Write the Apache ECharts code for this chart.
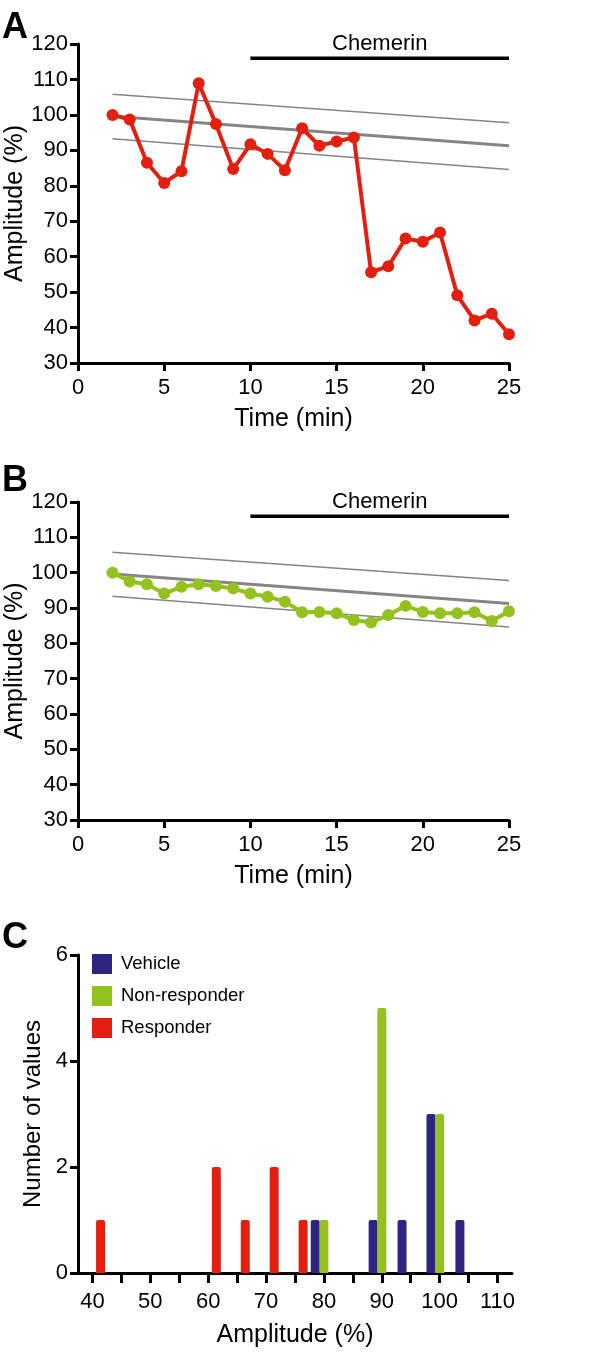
<!DOCTYPE html>
<html>
<head>
<meta charset="utf-8">
<script src="https://cdn.jsdelivr.net/npm/echarts@6/dist/echarts.min.js"></script>
<style>
html,body{margin:0;padding:0;background:#fff;}
#chart{width:600px;height:1353px;}
</style>
</head>
<body>
<div id="chart"></div>
<script>
// ---- data ----
const time = [2,3,4,5,6,7,8,9,10,11,12,13,14,15,16,17,18,19,20,21,22,23,24,25];
const responder = [100, 98.7, 86.5, 80.8, 84.1, 108.9, 97.4, 84.7, 91.7, 89, 84.4, 96.2, 91.3, 92.5, 93.6, 55.6, 57.3, 65.1, 64.2, 66.8, 49.1, 42, 43.9, 38.1];
const nonResponder = [100, 97.5, 96.7, 94.1, 96, 96.7, 96.2, 95.5, 94.1, 93.2, 91.8, 88.8, 88.9, 88.5, 86.6, 85.9, 88, 90.6, 88.9, 88.5, 88.5, 88.8, 86.3, 89.1];
const trendTime = [2, 25];
const upperBand = [105.8, 97.8];
const trendMean = [99.6, 91.3];
const lowerBand = [93.3, 84.6];
const chemTime = [10, 25];
const chemLevel = 116;
const chemLabelPos = [17.5, 120];

const vehicleX = [78.5, 88.5, 93.5, 98.5, 103.5];
const vehicleN = [1, 1, 1, 3, 1];
const nonRespX = [80, 90, 100];
const nonRespN = [1, 5, 3];
const respX = [41.4, 61.4, 66.4, 71.4, 76.4];
const respN = [1, 2, 1, 2, 1];
const histTicks = [40,45,50,55,60,65,70,75,80,85,90,95,100,105,110];
const histLabels = [40,50,60,70,80,90,100,110];

// ---- style ----
const FONT = 'Liberation Sans, Arial, Helvetica, sans-serif';
const RED = '#e3200f';
const GREEN = '#95c11f';
const NAVY = '#2e2580';
const GRAY = '#858585';

const pairs = (xs, ys) => xs.map((x, i) => [x, ys[i]]);

function timeAxis(gi) {
  return {
    type: 'value', gridIndex: gi, min: 0, max: 25, interval: 5,
    name: 'Time (min)', nameLocation: 'middle', nameGap: 44, nameMoveOverlap: false,
    nameTextStyle: {fontSize: 25, color: '#000', fontFamily: FONT},
    axisLine: {show: true, lineStyle: {color: '#000', width: 3}},
    axisTick: {show: true, length: 8, lineStyle: {color: '#000', width: 3}},
    axisLabel: {fontSize: 22, color: '#000', fontFamily: FONT, margin: 14},
    splitLine: {show: false}
  };
}
function ampAxis(gi) {
  return {
    type: 'value', gridIndex: gi, min: 30, max: 120, interval: 10,
    name: 'Amplitude (%)', nameLocation: 'middle', nameGap: 50, nameMoveOverlap: false,
    nameTextStyle: {fontSize: 25, color: '#000', fontFamily: FONT},
    axisLine: {show: true, lineStyle: {color: '#000', width: 3}},
    axisTick: {show: true, length: 8, lineStyle: {color: '#000', width: 3}},
    axisLabel: {fontSize: 22, color: '#000', fontFamily: FONT, margin: 10},
    splitLine: {show: false}
  };
}

function panelSeries(gi, values, color) {
  return [
    {type: 'line', xAxisIndex: gi, yAxisIndex: gi, data: pairs(trendTime, upperBand), symbol: 'none', lineStyle: {color: GRAY, width: 1.5}, silent: true, z: 1},
    {type: 'line', xAxisIndex: gi, yAxisIndex: gi, data: pairs(trendTime, trendMean), symbol: 'none', lineStyle: {color: GRAY, width: 3}, silent: true, z: 1},
    {type: 'line', xAxisIndex: gi, yAxisIndex: gi, data: pairs(trendTime, lowerBand), symbol: 'none', lineStyle: {color: GRAY, width: 1.5}, silent: true, z: 1},
    {type: 'line', xAxisIndex: gi, yAxisIndex: gi, data: chemTime.map(t => [t, chemLevel]), symbol: 'none', lineStyle: {color: '#000', width: 3.5}, silent: true, z: 2},
    {type: 'scatter', xAxisIndex: gi, yAxisIndex: gi, data: [chemLabelPos], symbolSize: 1,
      itemStyle: {opacity: 1, color: 'rgba(0,0,0,0)'},
      label: {show: true, position: 'inside', formatter: 'Chemerin', fontSize: 22, color: '#000', opacity: 1, textBorderWidth: 0, fontFamily: FONT}, silent: true, z: 2},
    {type: 'line', xAxisIndex: gi, yAxisIndex: gi, data: pairs(time, values), symbol: 'circle', symbolSize: 12,
      lineStyle: {color: color, width: 4}, itemStyle: {color: color}, z: 5}
  ];
}

const chart = echarts.init(document.getElementById('chart'), null, {renderer: 'canvas'});
chart.setOption({
  animation: false,
  backgroundColor: '#fff',
  textStyle: {fontFamily: FONT},
  graphic: [
    {type: 'text', left: 2, top: 10, style: {text: 'A', font: 'bold 36px ' + FONT, fill: '#000'}},
    {type: 'text', left: 2, top: 463, style: {text: 'B', font: 'bold 36px ' + FONT, fill: '#000'}},
    {type: 'text', left: 2, top: 920, style: {text: 'C', font: 'bold 36px ' + FONT, fill: '#000'}}
  ],
  legend: {
    data: ['Vehicle', 'Non-responder', 'Responder'],
    orient: 'vertical', left: 92, top: 954, padding: 0, itemWidth: 20, itemHeight: 20, itemGap: 12,
    icon: 'rect',
    textStyle: {fontSize: 18.5, color: '#000', fontFamily: FONT, padding: [0, 0, 0, 4]}
  },
  grid: [
    {left: 78, top: 44, width: 431, height: 319, outerBoundsMode: 'none', containLabel: false},
    {left: 78, top: 502, width: 431, height: 318, outerBoundsMode: 'none', containLabel: false},
    {left: 78, top: 955, width: 434, height: 318, outerBoundsMode: 'none', containLabel: false}
  ],
  xAxis: [
    timeAxis(0),
    timeAxis(1),
    {
      type: 'value', gridIndex: 2, min: 37.5, max: 112.5,
      name: 'Amplitude (%)', nameLocation: 'middle', nameGap: 50, nameMoveOverlap: false,
      nameTextStyle: {fontSize: 25, color: '#000', fontFamily: FONT},
      axisLine: {show: true, lineStyle: {color: '#000', width: 3}},
      axisTick: {show: true, length: 10, customValues: histTicks, lineStyle: {color: '#000', width: 3}},
      axisLabel: {fontSize: 22, color: '#000', fontFamily: FONT, margin: 18, customValues: histLabels},
      splitLine: {show: false}
    }
  ],
  yAxis: [
    ampAxis(0),
    ampAxis(1),
    {
      type: 'value', gridIndex: 2, min: 0, max: 6, interval: 2,
      name: 'Number of values', nameLocation: 'middle', nameGap: 33, nameMoveOverlap: false,
      nameTextStyle: {fontSize: 24, color: '#000', fontFamily: FONT},
      axisLine: {show: true, lineStyle: {color: '#000', width: 3}},
      axisTick: {show: true, length: 8, lineStyle: {color: '#000', width: 3}},
      axisLabel: {fontSize: 22, color: '#000', fontFamily: FONT, margin: 10},
      splitLine: {show: false}
    }
  ],
  series: [
    ...panelSeries(0, responder, RED),
    ...panelSeries(1, nonResponder, GREEN),
    {name: 'Vehicle', type: 'bar', xAxisIndex: 2, yAxisIndex: 2, data: pairs(vehicleX, vehicleN), barWidth: 9, barGap: '-100%', itemStyle: {color: NAVY, borderRadius: [2,2,0,0]}, z: 3},
    {name: 'Non-responder', type: 'bar', xAxisIndex: 2, yAxisIndex: 2, data: pairs(nonRespX, nonRespN), barWidth: 9, barGap: '-100%', itemStyle: {color: GREEN, borderRadius: [2,2,0,0]}, z: 3},
    {name: 'Responder', type: 'bar', xAxisIndex: 2, yAxisIndex: 2, data: pairs(respX, respN), barWidth: 9, barGap: '-100%', itemStyle: {color: RED, borderRadius: [2,2,0,0]}, z: 3}
  ]
});
</script>
</body>
</html>
